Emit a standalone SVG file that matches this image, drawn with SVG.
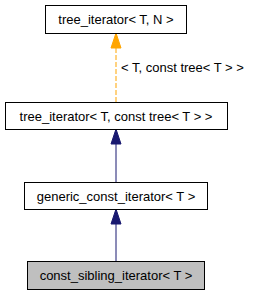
<svg xmlns="http://www.w3.org/2000/svg" width="256" height="296" viewBox="0 0 256 296">
<style>
.n rect{fill:#fff;stroke:#000;stroke-width:1}
.n text,.lbl{font-family:"Liberation Sans",Arial,sans-serif;font-size:13px;fill:#000}
.n text{text-anchor:middle}
.e{stroke:#191970;stroke-width:1;fill:none}
.o{stroke:#ffa500;stroke-width:1;fill:none;stroke-dasharray:5,2}
</style>
<rect width="256" height="296" fill="#fff"/>
<g id="edges">
<line class="o" x1="116" y1="102" x2="116" y2="48"/>
<polygon points="111,48 116,33 121,48" fill="#ffa500" stroke="#ffa500"/>
<text class="lbl" x="121" y="72">&lt; T, const tree&lt; T &gt; &gt;</text>
<line class="e" x1="116" y1="182" x2="116" y2="144"/>
<polygon points="111,144 116,129 121,144" fill="#191970" stroke="#191970"/>
<line class="e" x1="116" y1="261" x2="116" y2="224"/>
<polygon points="111,224 116,209 121,224" fill="#191970" stroke="#191970"/>
</g>
<g id="n1" class="n"><rect x="45.5" y="5.5" width="141" height="28"/><text x="116" y="23.5">tree_iterator&lt; T, N &gt;</text></g>
<g id="n2" class="n"><rect x="5.5" y="102.5" width="222" height="27"/><text x="116" y="120.5">tree_iterator&lt; T, const tree&lt; T &gt; &gt;</text></g>
<g id="n3" class="n"><rect x="24.5" y="182.5" width="183" height="27"/><text x="116" y="200.5">generic_const_iterator&lt; T &gt;</text></g>
<g id="n4" class="n"><rect x="27.5" y="261.5" width="177" height="28" style="fill:#bfbfbf"/><text x="116" y="280">const_sibling_iterator&lt; T &gt;</text></g>
</svg>
